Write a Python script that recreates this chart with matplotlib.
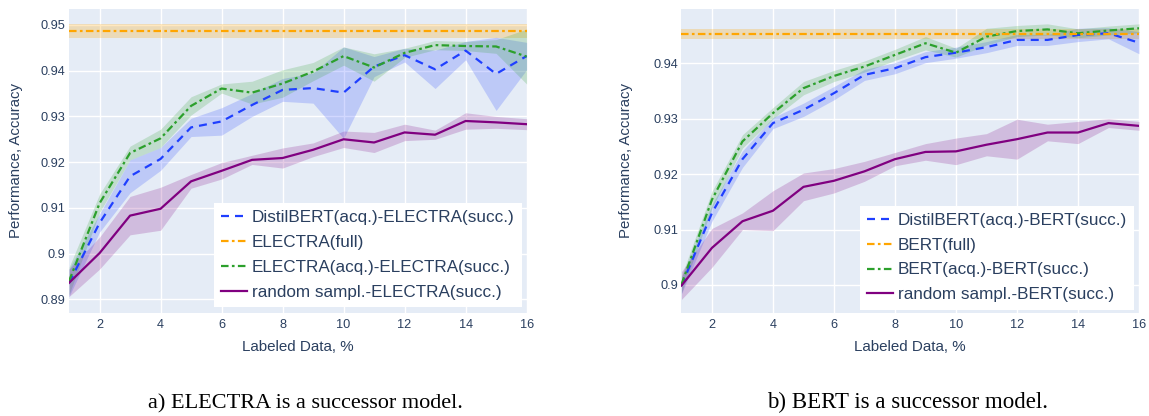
import numpy as np
from matplotlib import pyplot as plt

plt.rcParams['font.family'] = ['Liberation Sans', 'DejaVu Sans']

x = np.arange(1, 17)

# a) ELECTRA is the successor model
el_distil = [0.8936, 0.9067, 0.9169, 0.9207, 0.9276, 0.9289, 0.9325, 0.9358,
             0.9362, 0.9352, 0.9409, 0.9434, 0.9403, 0.9444, 0.9393, 0.9432]
el_distil_sd = [0.003, 0.002, 0.0036, 0.0025, 0.002, 0.003, 0.0025, 0.0025,
                0.0033, 0.010, 0.0022, 0.0015, 0.0042, 0.002, 0.008, 0.003]
el_electra = [0.8940, 0.9110, 0.9220, 0.9252, 0.9323, 0.9361, 0.9352, 0.9372,
              0.9398, 0.9432, 0.9407, 0.9439, 0.9456, 0.9454, 0.9453, 0.9431]
el_electra_sd = [0.003, 0.002, 0.0015, 0.002, 0.002, 0.001, 0.0025, 0.003,
                 0.002, 0.002, 0.003, 0.001, 0.001, 0.001, 0.0015, 0.006]
el_random = [0.8936, 0.9001, 0.9083, 0.9098, 0.9158, 0.9181, 0.9205, 0.9209,
             0.9227, 0.9250, 0.9243, 0.9265, 0.9260, 0.9290, 0.9287, 0.9283]
el_random_sd = [0.003, 0.0035, 0.0042, 0.0047, 0.0015, 0.0018, 0.001, 0.0022,
                0.0015, 0.0018, 0.0022, 0.0018, 0.001, 0.0018, 0.0013, 0.0012]
el_full, el_full_sd = 0.9487, 0.0015

# b) BERT is the successor model
bt_distil = [0.8999, 0.9130, 0.9227, 0.9292, 0.9316, 0.9346, 0.9379, 0.9391,
             0.9411, 0.9419, 0.9429, 0.9442, 0.9442, 0.9451, 0.9454, 0.9437]
bt_distil_sd = [0.0015, 0.0015, 0.0015, 0.001, 0.0012, 0.0012, 0.001, 0.001,
                0.001, 0.001, 0.001, 0.001, 0.001, 0.0012, 0.001, 0.002]
bt_bert = [0.9001, 0.9154, 0.9259, 0.9310, 0.9355, 0.9377, 0.9394, 0.9415,
           0.9436, 0.9419, 0.9448, 0.9458, 0.9461, 0.9454, 0.9459, 0.9463]
bt_bert_sd = [0.0015, 0.0015, 0.0012, 0.001, 0.0012, 0.001, 0.001, 0.001,
              0.0012, 0.0008, 0.0015, 0.001, 0.001, 0.0008, 0.0008, 0.0008]
bt_random = [0.8999, 0.9067, 0.9115, 0.9134, 0.9177, 0.9188, 0.9205, 0.9227,
             0.9240, 0.9241, 0.9253, 0.9263, 0.9275, 0.9275, 0.9292, 0.9287]
bt_random_sd = [0.0025, 0.0035, 0.0015, 0.0036, 0.0025, 0.0022, 0.0018, 0.0012,
                0.0015, 0.0024, 0.002, 0.0036, 0.0015, 0.002, 0.0008, 0.0008]
bt_full, bt_full_sd = 0.9453, 0.00085

BG = '#E5ECF6'
TXT = '#2a3f5f'
BLUE, ORANGE, GREEN, PURPLE = '#1f3fff', '#FFA500', '#2ca02c', '#800080'
DASH = (0, (3.6, 2.7))
DASHDOT = (0, (3.4, 1.5, 1.2, 1.5))


def draw(ax, distil, distil_sd, acq, acq_sd, rnd, rnd_sd, full, full_sd,
         names, ylim, yticks, ylabels, ylab_x):
    ax.set_facecolor(BG)
    ax.fill_between([1, 16], full - full_sd, full + full_sd, color=ORANGE, alpha=0.25, lw=0)
    series = [(distil, distil_sd, BLUE, DASH, names[0]),
              (acq, acq_sd, GREEN, DASHDOT, names[2]),
              (rnd, rnd_sd, PURPLE, '-', names[3])]
    for m, s, c, ls, lab in series:
        m = np.array(m)
        s = np.array(s)
        ax.fill_between(x, m - s, m + s, color=c, alpha=0.2, lw=0)
    hd = {}
    for m, s, c, ls, lab in series:
        hd[lab], = ax.plot(x, m, color=c, ls=ls, lw=1.6)
    hd[names[1]], = ax.plot([1, 16], [full, full], color=ORANGE, ls=DASHDOT, lw=1.6)
    ax.set_xlim(1, 16)
    ax.set_ylim(*ylim)
    ax.set_xticks(range(2, 17, 2))
    ax.set_yticks(yticks)
    ax.set_yticklabels(ylabels)
    ax.grid(color='white', lw=1)
    ax.set_axisbelow(True)
    for sp in ax.spines.values():
        sp.set_visible(False)
    ax.tick_params(length=0, colors=TXT, labelsize=9.2)
    ax.tick_params(axis='x', pad=4)
    ax.tick_params(axis='y', pad=2.5)
    ax.set_xlabel('Labeled Data, %', color=TXT, fontsize=10.9)
    ax.set_ylabel('Performance, Accuracy', color=TXT, fontsize=10.8)
    ax.xaxis.set_label_coords(0.5, -0.088)
    ax.yaxis.set_label_coords(ylab_x, 0.5)
    leg = ax.legend([hd[n] for n in names], names, loc='lower right', fontsize=12.3,
                    frameon=True, fancybox=False, framealpha=1, edgecolor='white',
                    borderpad=0.42, labelspacing=0.58, handlelength=1.55,
                    handletextpad=0.25, borderaxespad=0.2)
    leg.get_frame().set_linewidth(0)
    for t in leg.get_texts():
        t.set_color(TXT)
    return leg


fig = plt.figure(figsize=(11.49, 4.16), dpi=100)
ax1 = fig.add_axes([0.0601, 0.2476, 0.3982, 0.7308])
ax2 = fig.add_axes([0.5931, 0.2476, 0.3982, 0.7308])

leg1 = draw(ax1, el_distil, el_distil_sd, el_electra, el_electra_sd, el_random, el_random_sd,
            el_full, el_full_sd,
            ['DistilBERT(acq.)-ELECTRA(succ.)', 'ELECTRA(full)',
             'ELECTRA(acq.)-ELECTRA(succ.)', 'random sampl.-ELECTRA(succ.)'],
            (0.8870, 0.9535), [0.89, 0.90, 0.91, 0.92, 0.93, 0.94, 0.95],
            ['0.89', '0.9', '0.91', '0.92', '0.93', '0.94', '0.95'], -0.100)
leg2 = draw(ax2, bt_distil, bt_distil_sd, bt_bert, bt_bert_sd, bt_random, bt_random_sd,
            bt_full, bt_full_sd,
            ['DistilBERT(acq.)-BERT(succ.)', 'BERT(full)',
             'BERT(acq.)-BERT(succ.)', 'random sampl.-BERT(succ.)'],
            (0.89495, 0.94978), [0.90, 0.91, 0.92, 0.93, 0.94],
            ['0.9', '0.91', '0.92', '0.93', '0.94'], -0.105)
leg1.set_bbox_to_anchor((0.9965, 0.008), transform=ax1.transAxes)
leg2.set_bbox_to_anchor((0.9965, 0.0), transform=ax2.transAxes)

fig.text(0.2655, 0.019, 'a) ELECTRA is a successor model.', ha='center', va='baseline',
         family=['Liberation Serif', 'DejaVu Serif'], fontsize=16, color='black')
fig.text(0.7895, 0.019, 'b) BERT is a successor model.', ha='center', va='baseline',
         family=['Liberation Serif', 'DejaVu Serif'], fontsize=16.5, color='black')

plt.savefig('out.png', dpi=100)
